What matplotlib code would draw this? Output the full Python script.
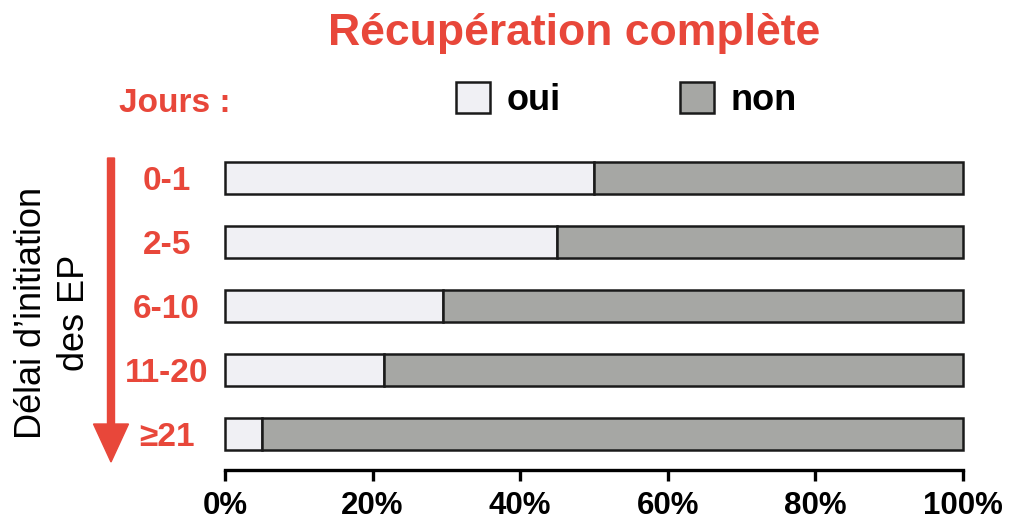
"""
Stacked horizontal bars: complete recovery by delay of treatment start.
"""
import matplotlib
matplotlib.use("Agg")
import matplotlib.pyplot as plt
from matplotlib.patches import FancyArrow

RED = "#e8473a"
COLORS = ["#f0f0f4", "#a6a7a4"]
LABELS = ["oui", "non"]

categories = ["0-1", "2-5", "6-10", "11-20", "≥21"]
oui = [50, 45, 29.5, 21.5, 5]
non = [100 - v for v in oui]
ticks = [0, 20, 40, 60, 80, 100]
tick_labels = ["0%", "20%", "40%", "60%", "80%", "100%"]

plt.rcParams['font.family'] = ['Liberation Sans', 'DejaVu Sans']

W, H = 1021, 528
fig = plt.figure(figsize=(W / 100, H / 100), dpi=100)
ax = fig.add_axes([225 / W, 1 - 470 / H, 738 / W, 320 / H])

y = list(range(len(categories)))
b1 = ax.barh(y, oui, height=0.5, color=COLORS[0], edgecolor="#1a1a1a",
             linewidth=1.8, label=LABELS[0], clip_on=False)
b2 = ax.barh(y, non, left=oui, height=0.5, color=COLORS[1], edgecolor="#1a1a1a",
             linewidth=1.8, label=LABELS[1], clip_on=False)

ax.set_xlim(0, 100)
ax.set_ylim(4.5625, -0.4375)
for s in ["top", "right", "left"]:
    ax.spines[s].set_visible(False)
ax.spines["bottom"].set_linewidth(2.4)
ax.set_xticks(ticks)
ax.set_xticklabels(tick_labels, fontsize=22.5, fontweight="bold")
ax.tick_params(axis="x", length=8, width=2.4, pad=7)
ax.set_yticks(y)
ax.set_yticklabels(categories, fontsize=24, fontweight="bold", color=RED, ha="center")
ax.tick_params(axis="y", length=0, pad=42)

fig.text(574 / W, 1 - 33 / H, "Récupération complète", ha="center", va="center",
         fontsize=32, fontweight="bold", color=RED)
fig.text(175 / W, 1 - 103 / H, "Jours :", ha="center", va="center",
         fontsize=24, fontweight="bold", color=RED)
fig.text(53 / W, 1 - 313 / H, "Délai d’initiation\ndes EP", ha="center", va="center",
         rotation=90, fontsize=26, linespacing=1.3)

fig.legend(handles=[b1, b2], loc="center", bbox_to_anchor=(626 / W, 1 - 100 / H),
           ncol=2, frameon=False, prop=dict(size=26, weight="bold"),
           handlelength=0.95, handleheight=0.95, handletextpad=0.45, columnspacing=3.3)

arrow = FancyArrow(111 / W, 1 - 158 / H, 0, -(462 - 158) / H, width=7 / W,
                   head_width=35 / W, head_length=38 / H, length_includes_head=True,
                   color=RED, transform=fig.transFigure)
fig.add_artist(arrow)

fig.savefig("out.png", dpi=100)
